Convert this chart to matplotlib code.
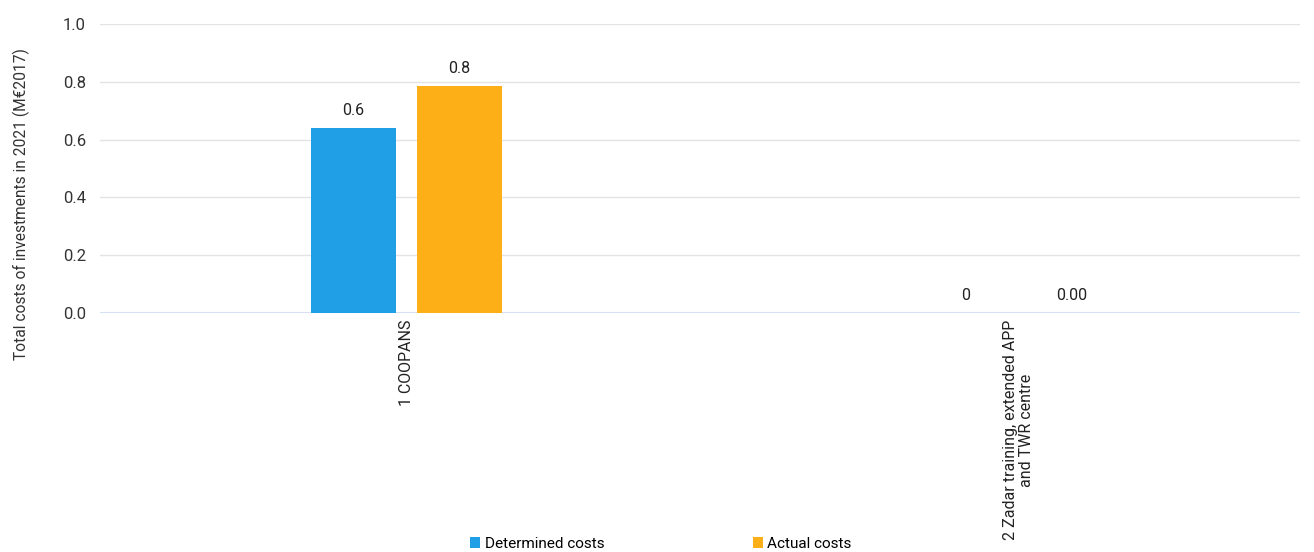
import matplotlib
matplotlib.use("Agg")
import matplotlib.pyplot as plt
import numpy as np

plt.rcParams['font.family'] = ['Roboto', 'DejaVu Sans']

categories = ["1 COOPANS", "2 Zadar training, extended APP\nand TWR centre"]
determined = [0.64, 0.0]
actual = [0.785, 0.0]
det_labels = ["0.6", "0"]
act_labels = ["0.8", "0.00"]
series_names = ["Determined costs", "Actual costs"]
colors = ["#209fe6", "#fcaf17"]

fig = plt.figure(figsize=(13.14, 5.52), dpi=100)
ax = fig.add_axes([100/1314, 1 - 313/552, 1200/1314, 289/552])

x = np.arange(len(categories))
w = 0.139
off = 0.0866
b1 = ax.bar(x - off, determined, w, color=colors[0], label=series_names[0], zorder=3)
b2 = ax.bar(x + off, actual, w, color=colors[1], label=series_names[1], zorder=3)

for rect, lab in zip(b1, det_labels):
    ax.annotate(lab, (rect.get_x() + rect.get_width() / 2, rect.get_height()),
                xytext=(0, 7), textcoords="offset points", ha="center", va="bottom",
                fontsize=11.5, color="#222222")
for rect, lab in zip(b2, act_labels):
    ax.annotate(lab, (rect.get_x() + rect.get_width() / 2, rect.get_height()),
                xytext=(0, 7), textcoords="offset points", ha="center", va="bottom",
                fontsize=11.5, color="#222222")

ax.set_ylim(0, 1.0)
ax.set_xlim(-0.5, 1.46)
ax.set_yticks(np.arange(0, 1.01, 0.2))
ax.set_yticklabels([f"{v:.1f}" for v in np.arange(0, 1.01, 0.2)], fontsize=12, color="#333333")
ax.set_xticks(x)
ax.set_xticklabels(categories, rotation=90, fontsize=11.5, color="#222222",
                   ha="center", va="top", multialignment="center", linespacing=1.1)
ax.tick_params(axis="x", length=0, pad=5)
ax.tick_params(axis="y", length=0, pad=10)
for s in ax.spines.values():
    s.set_visible(False)
ax.grid(axis="y", color="#e3e3e3", linewidth=1, zorder=0)
ax.axhline(0, color="#d6e2f3", linewidth=1.5, zorder=2)

ax.set_ylabel("Total costs of investments in 2021 (M€2017)", fontsize=11.2, color="#333333")
ax.yaxis.set_label_coords(-0.058, 0.377)

fig.legend(handles=[b1, b2], labels=series_names, loc="lower center",
           bbox_to_anchor=(661/1314, -0.023), ncol=2, frameon=False, fontsize=11,
           handlelength=0.65, handleheight=0.65, handletextpad=0.3, columnspacing=9.7)

fig.savefig("out.png", dpi=100)
